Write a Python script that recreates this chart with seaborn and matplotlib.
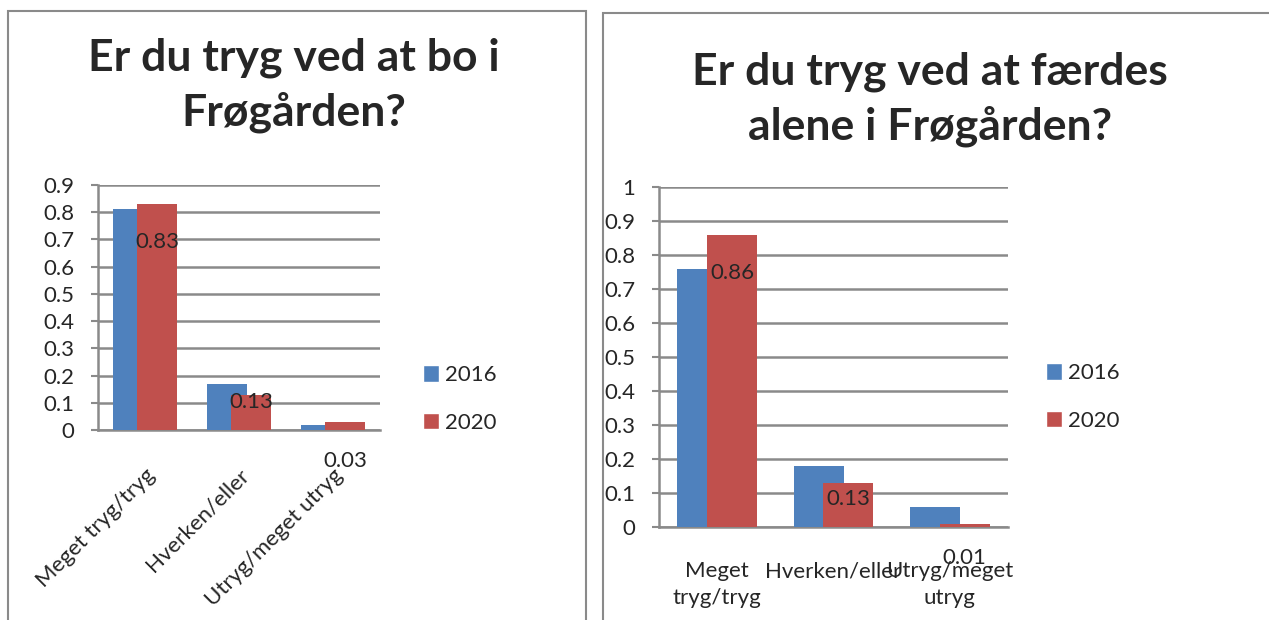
import numpy as np
import pandas as pd
import matplotlib
matplotlib.use('Agg')
import matplotlib.pyplot as plt
import seaborn as sns
from matplotlib.patches import Patch, Rectangle
from matplotlib.ticker import FuncFormatter

# data
years = ['2016', '2020']
kategorier_bo = ['Meget tryg/tryg', 'Hverken/eller', 'Utryg/meget utryg']
bo_2016 = [0.81, 0.17, 0.02]
bo_2020 = [0.83, 0.13, 0.03]

kategorier_alene = ['Meget\ntryg/tryg', 'Hverken/eller', 'Utryg/meget\nutryg']
alene_2016 = [0.76, 0.18, 0.06]
alene_2020 = [0.86, 0.13, 0.01]

title_bo = 'Er du tryg ved at bo i\nFrøgården?'
title_alene = 'Er du tryg ved at færdes\nalene i Frøgården?'

BLUE = '#4F81BD'
RED = '#C0504D'
GRID = '#8a8a8a'
FS = 16

sns.set_style('white')
plt.rcParams['font.family'] = ['Lato', 'DejaVu Sans']


def long_df(cats, v16, v20):
    return pd.DataFrame({
        'kategori': cats * 2,
        'år': [years[0]] * len(cats) + [years[1]] * len(cats),
        'andel': list(v16) + list(v20),
    })


def draw_panel(ax, df, ymax, label_offsets):
    sns.barplot(data=df, x='kategori', y='andel', hue='år', hue_order=years,
                palette=[BLUE, RED], width=0.51, saturation=1, legend=False,
                ax=ax, zorder=3)
    # excel style overlapping bars
    for p in ax.patches:
        c = p.get_x() + p.get_width() / 2
        p.set_width(0.43)
        p.set_x(c - 0.215)
        p.set_linewidth(0)
    n = len(df) // 2
    for p, off in zip(ax.patches[n:], label_offsets):
        ax.annotate(f'{p.get_height():g}',
                    (p.get_x() + p.get_width() / 2, p.get_height()),
                    xytext=(0, off), textcoords='offset pixels',
                    ha='center', va='center', fontsize=FS, zorder=5)
    ax.set_ylim(0, ymax)
    ax.set_xlim(-0.5, n - 0.5)
    ax.set_yticks(np.arange(0, ymax + 0.001, 0.1))
    ax.yaxis.set_major_formatter(FuncFormatter(lambda v, _: f'{round(v, 1):g}'))
    ax.grid(axis='y', color=GRID, lw=1.8, zorder=0)
    ax.set_axisbelow(True)
    for s in ['top', 'right']:
        ax.spines[s].set_visible(False)
    for s in ['left', 'bottom']:
        ax.spines[s].set_color(GRID)
        ax.spines[s].set_linewidth(1.8)
    ax.tick_params(axis='y', which='major', left=True, length=5, width=1.5,
                   color=GRID, pad=12, labelsize=FS)
    ax.tick_params(axis='x', bottom=False, labelsize=FS)
    ax.set_xlabel('')
    ax.set_ylabel('')


fig = plt.figure(figsize=(12.69, 6.2), dpi=100)

# panel frames
fig.patches.append(Rectangle((8 / 1269, -0.05), 578 / 1269, 1.05 - 11 / 620,
                             transform=fig.transFigure, fill=False,
                             edgecolor=GRID, lw=1.5))
fig.patches.append(Rectangle((603 / 1269, -0.05), 0.6, 1.05 - 13 / 620,
                             transform=fig.transFigure, fill=False,
                             edgecolor=GRID, lw=1.5))

ax1 = fig.add_axes([98 / 1269, 1 - 430 / 620, 282 / 1269, 245 / 620])
draw_panel(ax1, long_df(kategorier_bo, bo_2016, bo_2020), 0.9, [-38, -7, -39])
for lab in ax1.get_xticklabels():
    lab.set_rotation(45)
    lab.set_ha('right')
    lab.set_va('top')
    lab.set_rotation_mode('anchor')
ax1.tick_params(axis='x', pad=22)

ax2 = fig.add_axes([659 / 1269, 1 - 527 / 620, 349 / 1269, 340 / 620])
draw_panel(ax2, long_df(kategorier_alene, alene_2016, alene_2020), 1.0, [-38, -16, -34])
ax2.tick_params(axis='x', pad=21)
for lab in ax2.get_xticklabels():
    lab.set_linespacing(1.45)

fig.text(294 / 1269, 1 - 85 / 620, title_bo, ha='center', va='center',
         fontsize=32, fontweight='bold', linespacing=1.4)
fig.text(930 / 1269, 1 - 99 / 620, title_alene, ha='center', va='center',
         fontsize=32, fontweight='bold', linespacing=1.4)

handles = [Patch(facecolor=BLUE, label=years[0]), Patch(facecolor=RED, label=years[1])]
for x0, yc in [(423, 399), (1046, 397)]:
    fig.legend(handles=handles, loc='center left',
               bbox_to_anchor=(x0 / 1269, 1 - yc / 620), frameon=False,
               fontsize=FS, handlelength=0.7, handleheight=0.75,
               handletextpad=0.3, labelspacing=1.25, borderpad=0,
               borderaxespad=0)

fig.savefig('out.png', dpi=100)
